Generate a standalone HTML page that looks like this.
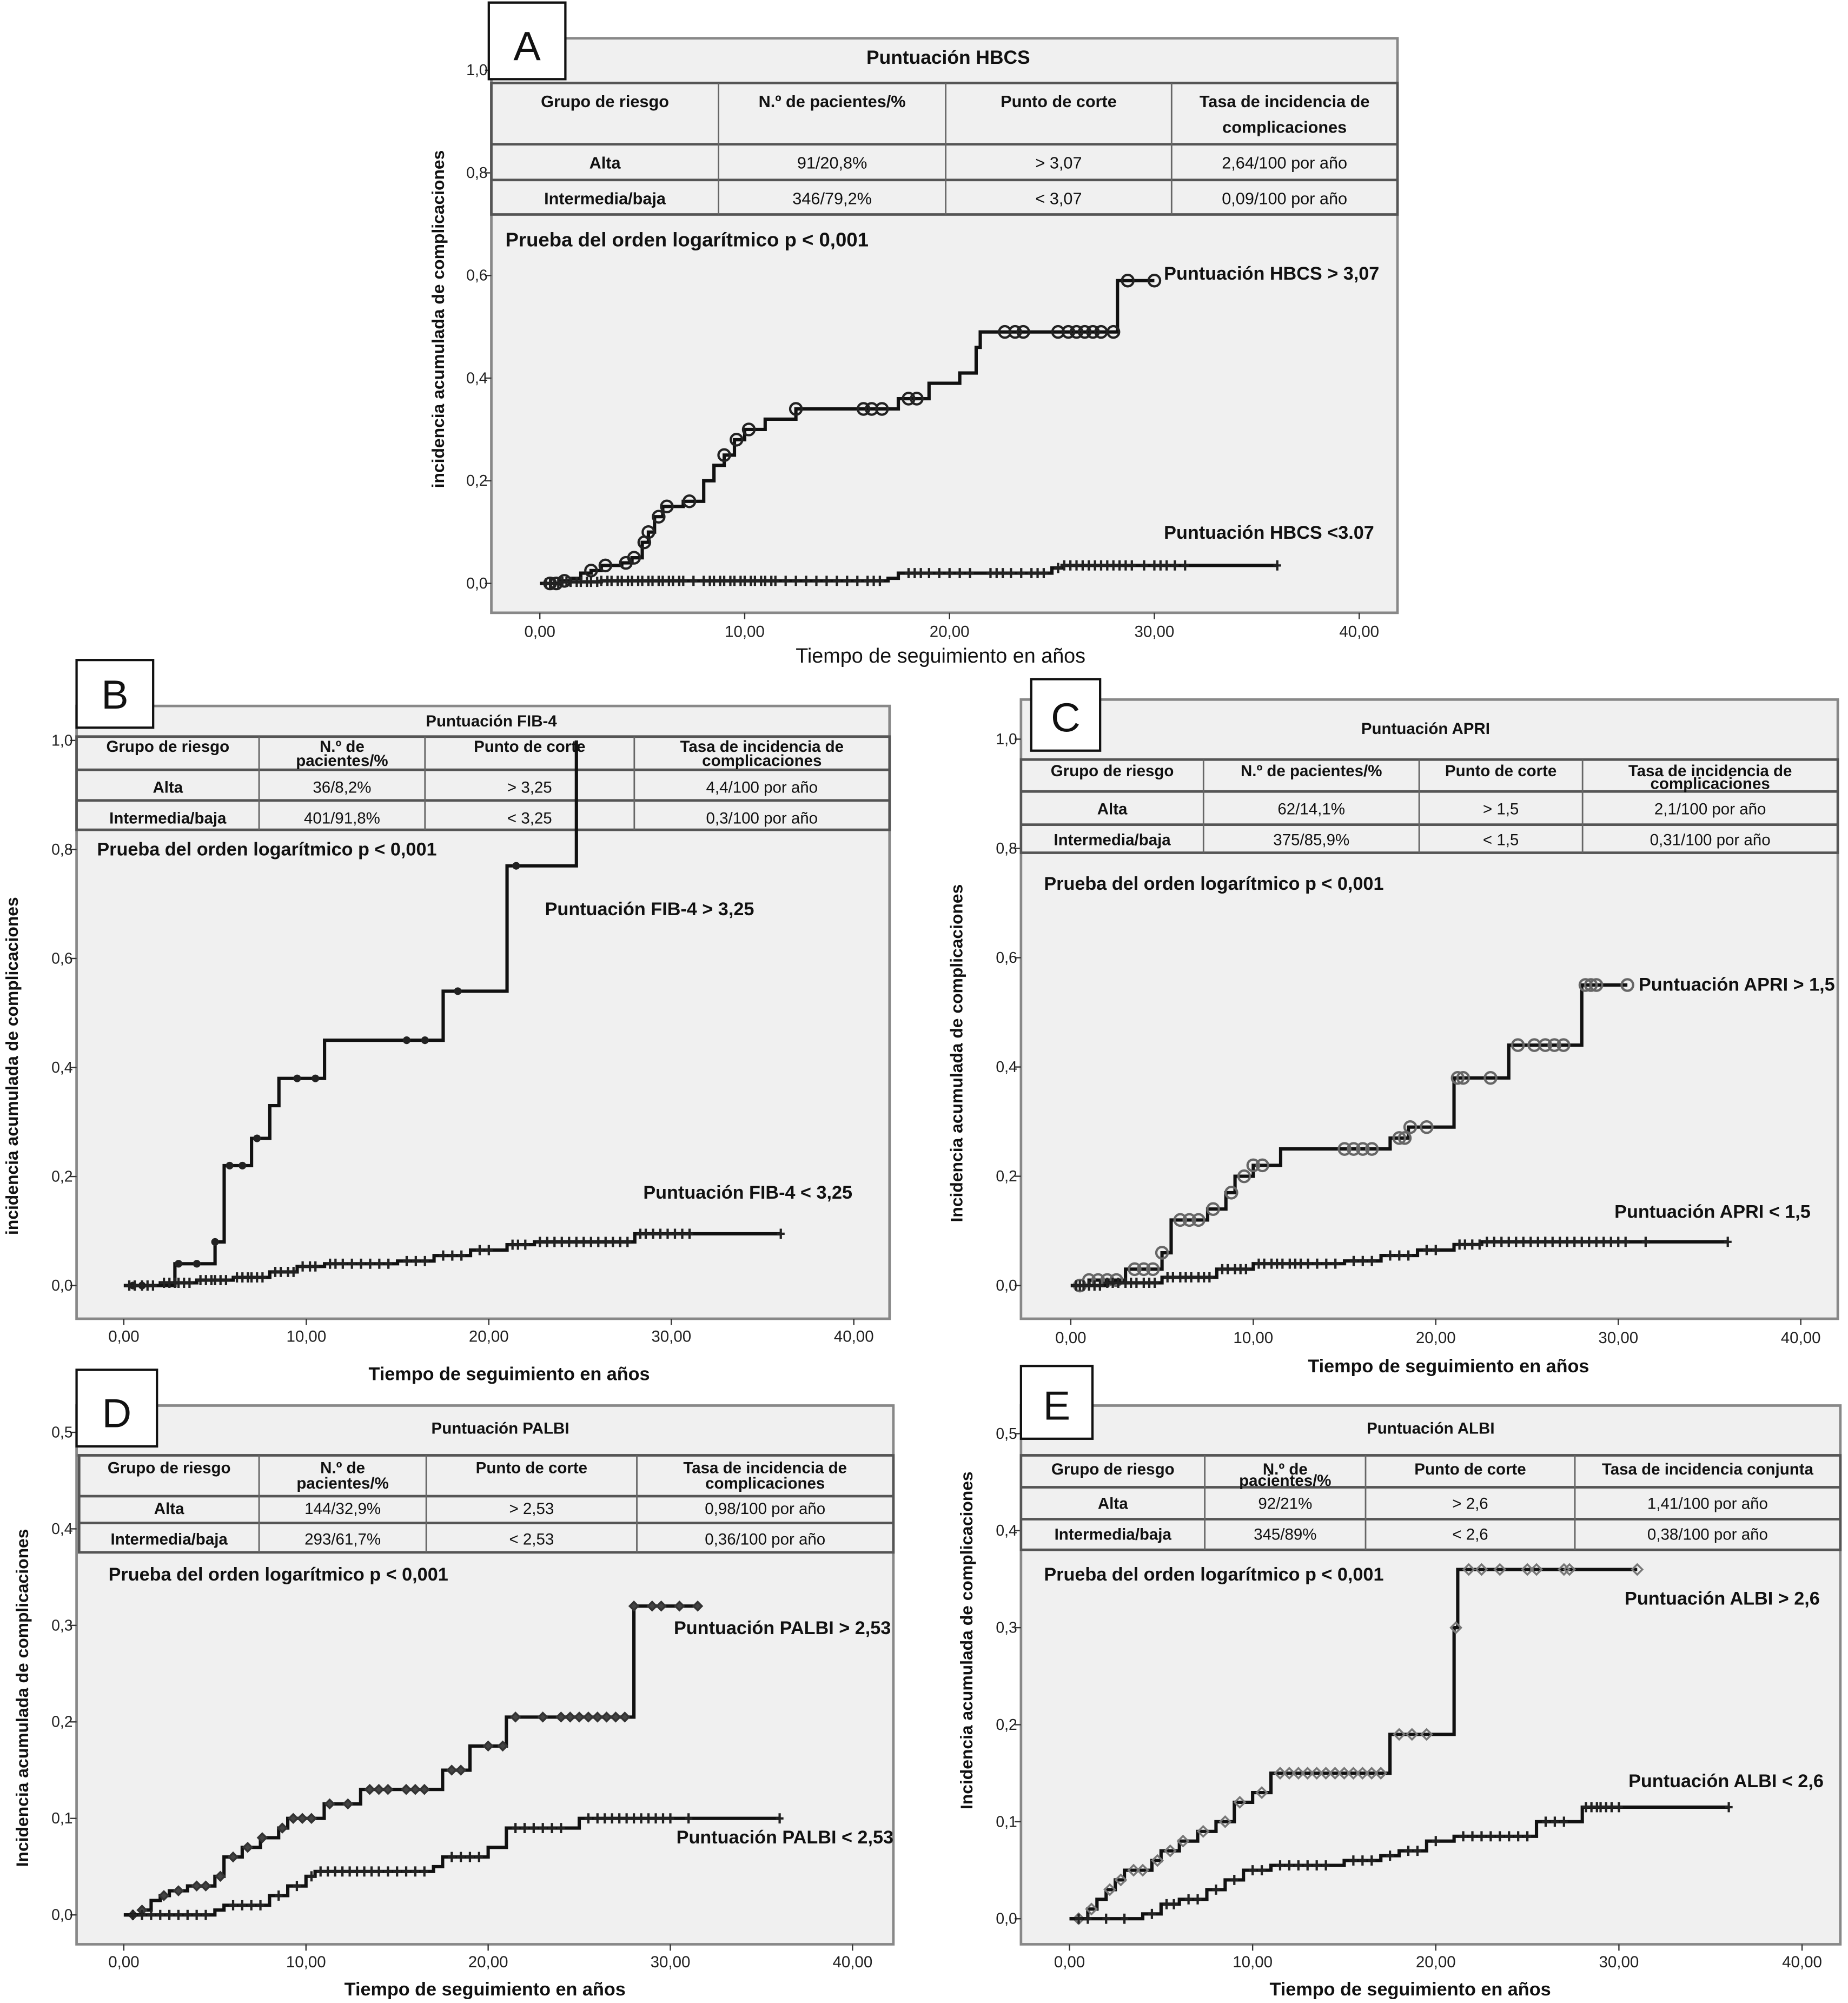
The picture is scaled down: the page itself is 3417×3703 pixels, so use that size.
<!DOCTYPE html>
<html><head><meta charset="utf-8">
<style>
html,body{margin:0;padding:0;background:#fff;}
svg{display:block;font-family:"Liberation Sans",sans-serif;}
</style></head>
<body>
<svg id="fig" width="3417" height="3703" viewBox="0 0 1448 1569" preserveAspectRatio="none" xmlns="http://www.w3.org/2000/svg"></svg>
<script>
// ---- data (years, cumulative incidence) ----
const aHighT=[0,1,1.5,2,2.5,3,4,4.5,5,5.3,5.6,6,7,8,8.5,9,9.5,10,11,12.5,17.5,19,20.5,21.3,21.5,28.2];
const aHighV=[0,0.005,0.01,0.02,0.025,0.035,0.04,0.05,0.08,0.1,0.13,0.15,0.16,0.2,0.23,0.25,0.28,0.3,0.32,0.34,0.36,0.39,0.41,0.46,0.49,0.59];
const aHighEnd=30;
const aHighC=[0.5,0.8,1.2,2.5,3.2,4.2,4.6,5.1,5.3,5.8,6.2,7.3,9,9.6,10.2,12.5,15.8,16.2,16.7,18,18.4,22.7,23.2,23.6,25.3,25.8,26.2,26.6,27,27.4,28,28.7,30];
const aLowT=[0,1,3,17,17.5,25,25.5];
const aLowV=[0,0.003,0.005,0.01,0.02,0.03,0.035];
const aLowEnd=36;
const aLowC=[0.3,0.5,0.7,0.9,1.1,1.3,1.5,1.8,2,2.3,2.5,2.8,3,3.3,3.5,3.8,4,4.3,4.5,4.8,5,5.3,5.5,5.8,6,6.3,6.5,6.8,7,7.5,8,8.3,8.5,8.8,9,9.3,9.5,9.8,10,10.3,10.5,10.8,11,11.3,11.5,12,12.5,13,13.5,14,14.5,15,15.5,16,16.3,16.6,18,18.3,18.6,19,19.5,20,20.5,21,22,22.3,22.6,23,23.5,24,24.3,24.6,25.3,25.6,25.9,26.2,26.5,26.8,27.1,27.4,27.7,28,28.3,28.6,28.9,29.5,30,30.3,30.6,31,31.5,36];
const bHighT=[0,2.8,5,5.5,7,8,8.5,11,17.5,21,24.8];
const bHighV=[0,0.04,0.08,0.22,0.27,0.33,0.38,0.45,0.54,0.77,1.0];
const bHighEnd=24.8;
const bHighC=[0.5,1,3,4,5,5.8,6.5,7.3,9.5,10.5,15.5,16.5,18.3,21.5];
const bLowT=[0,2,4,6,8,9.5,11,15,17,19,21,22.5,28];
const bLowV=[0,0.005,0.01,0.015,0.025,0.035,0.04,0.045,0.055,0.065,0.075,0.08,0.095];
const bLowEnd=36;
const bLowC=[0.3,0.6,1,1.3,1.6,2.2,2.5,2.8,3,3.3,3.6,4.2,4.5,4.8,5,5.3,5.6,6.2,6.5,6.8,7,7.3,7.6,8.3,8.6,9,9.3,9.8,10.2,10.5,11.3,11.6,12,12.5,13,13.5,14,14.5,15.5,16,16.5,17.5,18,18.5,19.5,20,21.3,21.6,22,22.8,23.2,23.6,24,24.4,24.8,25.2,25.6,26,26.4,26.8,27.2,27.6,28.3,28.6,29,29.4,29.8,30.2,30.6,31,36];
const cHighT=[0,1,3,5,5.5,7.5,8.5,9,10,11.5,17.5,18.5,21,24,28];
const cHighV=[0,0.01,0.03,0.06,0.12,0.14,0.17,0.2,0.22,0.25,0.27,0.29,0.38,0.44,0.55];
const cHighEnd=30.5;
const cHighC=[0.5,1,1.5,2,2.5,3.5,4,4.5,5,6,6.5,7,7.8,8.8,9.5,10,10.5,15,15.5,16,16.5,18,18.3,18.6,19.5,21.2,21.5,23,24.5,25.4,26,26.5,27,28.2,28.5,28.8,30.5];
const cLowT=[0,2,5,8,10,15,17,19,21,22.5];
const cLowV=[0,0.005,0.015,0.03,0.04,0.045,0.055,0.065,0.075,0.08];
const cLowEnd=36;
const cLowC=[0.3,0.5,0.7,1,1.3,1.6,2,2.3,2.6,3,3.3,3.6,4,4.3,4.6,5.3,5.6,6,6.3,6.6,7,7.3,7.6,8.3,8.6,9,9.3,9.6,10.3,10.6,11,11.3,11.6,12,12.3,12.6,13,13.5,14,14.5,15.5,16,16.5,17.5,18,18.5,19.5,20,21.3,21.6,22,22.4,22.8,23.2,23.6,24,24.4,24.8,25.2,25.6,26,26.4,26.8,27.2,27.6,28,28.4,28.8,29.2,29.6,30,30.4,31.5,36];
const dHighT=[0,1,1.5,2,2.5,3.5,5,5.5,6.5,7.5,8.5,9,11,13,17.5,19,21,28];
const dHighV=[0,0.005,0.015,0.02,0.025,0.03,0.04,0.06,0.07,0.08,0.09,0.1,0.115,0.13,0.15,0.175,0.205,0.32];
const dHighEnd=31.5;
const dHighC=[0.5,1,2.2,3,4,4.5,5.3,6,6.8,7.6,8.7,9.3,9.8,10.3,11.3,12.3,13.5,14,14.5,15.5,16,16.5,18,18.5,20,20.8,21.5,23,24,24.5,25,25.5,26,26.5,27,27.5,28,29,29.5,30.5,31.5];
const dLowT=[0,5,5.5,8,9,10,10.5,17,17.5,20,21,25];
const dLowV=[0,0.005,0.01,0.02,0.03,0.04,0.045,0.05,0.06,0.07,0.09,0.1];
const dLowEnd=36;
const dLowC=[0.5,1,1.5,2,2.5,3,3.5,4,4.5,6,6.5,7,7.5,8.5,9.5,10.3,10.8,11.2,11.6,12,12.4,12.8,13.2,13.6,14,14.5,15,15.5,16,16.5,18,18.5,19,19.5,21.5,22,22.5,23,23.5,24,25.5,26,26.4,26.8,27.2,27.6,28,28.4,28.8,29.2,29.6,30,31,36];
const eHighT=[0,1,1.5,2,2.5,3,4.5,5,6,7,8,9,10,11,17.5,21,21.2];
const eHighV=[0,0.01,0.02,0.03,0.04,0.05,0.06,0.07,0.08,0.09,0.1,0.12,0.13,0.15,0.19,0.3,0.36];
const eHighEnd=31;
const eHighC=[0.5,1.2,2.2,2.8,3.5,4,4.8,5.5,6.2,7.3,8.5,9.3,10.5,11.5,12,12.5,13,13.5,14,14.5,15,15.5,16,16.5,17,18,18.7,19.5,21.1,21.8,22.5,23.5,25,25.5,27,27.3,31];
const eLowT=[0,4,5,6,7.5,8.5,9.5,11,15,17,18,19.5,21,25.5,28];
const eLowV=[0,0.005,0.015,0.02,0.03,0.04,0.05,0.055,0.06,0.065,0.07,0.08,0.085,0.1,0.115];
const eLowEnd=36;
const eLowC=[0.5,1,2,3,4.5,5.3,5.7,6.5,7,8,9,10,10.5,11.5,12,12.5,13,13.5,14,15.5,16,16.5,17.5,18.5,19,20,21.5,22,22.5,23,23.5,24,24.5,25,26,26.5,27,28.2,28.5,28.8,29,29.3,29.6,30,36];

const xTickLabels=["0,00","10,00","20,00","30,00","40,00"];
const xTickVals=[0,10,20,30,40];
const yTicks1=[0,0.2,0.4,0.6,0.8,1.0];
const yTicks1L=["0,0","0,2","0,4","0,6","0,8","1,0"];
const yTicks2=[0,0.1,0.2,0.3,0.4,0.5];
const yTicks2L=["0,0","0,1","0,2","0,3","0,4","0,5"];

const NS="http://www.w3.org/2000/svg";
const svg=document.getElementById('fig');
function mk(tag,attrs,parent,text){const e=document.createElementNS(NS,tag);for(const k in attrs)e.setAttribute(k,attrs[k]);if(text!==undefined)e.textContent=text;(parent||svg).appendChild(e);return e;}
function stepAt(T,V,t){let v=V[0];for(let i=0;i<T.length;i++){if(T[i]<=t)v=V[i];}return v;}

function panel(p){
  const g=mk('g',{});
  
  
  const r=mk('rect',{x:p.bx0,y:p.by0,width:p.bx1-p.bx0,height:p.by1-p.by0,fill:'#f0f0f0',stroke:'#888',"stroke-width":2},g);
  
  
  const sx=t=>p.x0+(p.x40-p.x0)*t/40;
  const sy=v=>p.y0-(p.y0-p.yTop)*v/p.yMax;
  p.yt.forEach((v,i)=>{
    mk('line',{x1:p.bx0-5,x2:p.bx0,y1:sy(v),y2:sy(v),stroke:'#333','stroke-width':1},g);
    const t=mk('text',{x:p.bx0-3,y:sy(v)+4,'text-anchor':'end','font-size':12,fill:'#222'},g,p.ytl[i]);
    
    
  });
  xTickVals.forEach((v,i)=>{
    mk('line',{x1:sx(v),x2:sx(v),y1:p.by1,y2:p.by1+5,stroke:'#333','stroke-width':1},g);
    const t=mk('text',{x:sx(v),y:p.xly,'text-anchor':'middle','font-size':12.5,fill:'#222'},g,xTickLabels[i]);
    
    
  });
  const xt=mk('text',{x:p.xtx,y:p.xty,'text-anchor':'middle','font-size':p.xtfs,'font-weight':p.xtb?'bold':'normal',fill:'#111'},g,'Tiempo de seguimiento en años');
  
  
  const yt=mk('text',{x:0,y:0,transform:`translate(${p.ytx},${p.yty}) rotate(-90)`,'text-anchor':'middle','font-size':13.5,'font-weight':'bold',fill:'#111'},g,p.ytitle);
  
  
  mk('line',{x1:p.bx0,x2:p.bx1,y1:p.tb[0],y2:p.tb[0],stroke:'#777','stroke-width':2},g);
  const tt=mk('text',{x:p.ttx,y:p.tty,'text-anchor':'middle','font-size':p.ttfs,'font-weight':'bold',fill:'#111'},g,p.title);
  
  
  const tg=mk('g',{},g);
  
  
  const c=p.cols;
  mk('rect',{x:c[0],y:p.tb[0],width:c[c.length-1]-c[0],height:p.tb[3]-p.tb[0],fill:'#f0f0f0',stroke:'#555','stroke-width':2},tg);
  [p.tb[1],p.tb[2]].forEach(y=>mk('line',{x1:c[0],x2:c[4],y1:y,y2:y,stroke:'#555','stroke-width':2},tg));
  for(let i=1;i<4;i++)mk('line',{x1:c[i],x2:c[i],y1:p.tb[0],y2:p.tb[3],stroke:'#666','stroke-width':1.2},tg);
  const fs=p.tfs;
  p.head.forEach((h,i)=>{const cx=(c[i]+c[i+1])/2;h.forEach((ln,j)=>mk('text',{x:cx,y:p.hy[j],'text-anchor':'middle','font-size':fs,'font-weight':'bold',fill:'#111'},tg,ln));});
  p.rows.forEach((row,ri)=>{row.forEach((cell,i)=>{const cx=(c[i]+c[i+1])/2;mk('text',{x:cx,y:p.ry[ri],'text-anchor':'middle','font-size':fs,'font-weight':i==0?'bold':'normal',fill:'#111'},tg,cell);});});
  const pr=mk('text',{x:p.prx,y:p.pry,'font-size':p.prfs,'font-weight':'bold',fill:'#111'},g,'Prueba del orden logarítmico p < 0,001');
  
  
  p.series.forEach(s=>{
    let d=`M${sx(s.T[0])},${sy(s.V[0])}`;
    for(let i=1;i<s.T.length;i++){d+=` H${sx(s.T[i])} V${sy(s.V[i])}`;}
    d+=` H${sx(s.end)}`;
    const sg=mk('g',{},g);
    
    
    mk('path',{d:d,fill:'none',stroke:'#111','stroke-width':2.6},sg);
    s.C.forEach(t=>{
      const x=sx(t),y=sy(stepAt(s.T,s.V,t));
      let m;
      if(s.mark=='plus'){m=mk('path',{d:`M${x-3},${y}H${x+3}M${x},${y-4}V${y+4}`,stroke:'#222','stroke-width':1.8},sg);}
      else if(s.mark=='circle'){m=mk('circle',{cx:x,cy:y,r:4.5,fill:'none',stroke:s.col,'stroke-width':1.8},sg);}
      else if(s.mark=='dot'){m=mk('circle',{cx:x,cy:y,r:3,fill:'#222'},sg);}
      else {const q=s.r;m=mk('path',{d:`M${x},${y-q}L${x+q},${y}L${x},${y+q}L${x-q},${y}Z`,fill:s.fill,stroke:s.col,'stroke-width':1.5},sg);}
      
      
    });
    const lb=mk('text',{x:s.lx,y:s.ly,'font-size':14.5,'font-weight':'bold',fill:'#111'},g,s.label);
    
    
  });
  const lg=mk('g',{},g);
  
  
  mk('rect',{x:p.L[0],y:p.L[1],width:p.L[2]-p.L[0],height:p.L[3]-p.L[1],fill:'#fff',stroke:'#111','stroke-width':1.8},lg);
  mk('text',{x:(p.L[0]+p.L[2])/2,y:p.L[3]-15,'text-anchor':'middle','font-size':32,fill:'#111'},lg,p.id);
}

const rowsA=[["Alta","91/20,8%","> 3,07","2,64/100 por año"],["Intermedia/baja","346/79,2%","< 3,07","0,09/100 por año"]];
panel({id:'A',bx0:385,bx1:1095,by0:30,by1:480,x0:423,x40:1065,y0:457,yTop:55,yMax:1,yt:yTicks1,ytl:yTicks1L,
 xly:499,xtx:737,xty:519,xtfs:16,xtb:false,ytx:348,yty:250,ytitle:'incidencia acumulada de complicaciones',
 tb:[65,113,141,168],cols:[385,563,741,918,1095],tfs:13,ttx:743,tty:50,ttfs:15,title:'Puntuación HBCS',
 head:[["Grupo de riesgo"],["N.º de pacientes/%"],["Punto de corte"],["Tasa de incidencia de","complicaciones"]],hy:[84,104],
 rows:rowsA,ry:[132,160],prx:396,pry:193,prfs:15.5,L:[383,2,443,62],
 series:[{name:'hbcs-high',T:aHighT,V:aHighV,end:aHighEnd,C:aHighC,mark:'circle',col:'#222',lx:912,ly:219,label:'Puntuación HBCS > 3,07'},
         {name:'hbcs-low',T:aLowT,V:aLowV,end:aLowEnd,C:aLowC,mark:'plus',lx:912,ly:422,label:'Puntuación HBCS <3.07'}]});
panel({id:'B',bx0:60,bx1:697,by0:553,by1:1033,x0:97,x40:669,y0:1007,yTop:580,yMax:1,yt:yTicks1,ytl:yTicks1L,
 xly:1051,xtx:399,xty:1081,xtfs:14.5,xtb:true,ytx:14,yty:835,ytitle:'incidencia acumulada de complicaciones',
 tb:[577,603,627,650],cols:[60,203,333,497,697],tfs:12.5,ttx:385,tty:569,ttfs:12.5,title:'Puntuación FIB-4',
 head:[["Grupo de riesgo"],["N.º de","pacientes/%"],["Punto de corte"],["Tasa de incidencia de","complicaciones"]],hy:[589,600],
 rows:[["Alta","36/8,2%","> 3,25","4,4/100 por año"],["Intermedia/baja","401/91,8%","< 3,25","0,3/100 por año"]],ry:[621,645],prx:76,pry:670,prfs:14.5,L:[60,517,120,570],
 series:[{name:'fib4-high',T:bHighT,V:bHighV,end:bHighEnd,C:bHighC,mark:'dot',lx:427,ly:717,label:'Puntuación FIB-4 > 3,25'},
         {name:'fib4-low',T:bLowT,V:bLowV,end:bLowEnd,C:bLowC,mark:'plus',lx:504,ly:939,label:'Puntuación FIB-4 < 3,25'}]});
panel({id:'C',bx0:800,bx1:1440,by0:548,by1:1033,x0:839,x40:1411,y0:1007,yTop:579,yMax:1,yt:yTicks1,ytl:yTicks1L,
 xly:1052,xtx:1135,xty:1075,xtfs:14.5,xtb:true,ytx:754,yty:825,ytitle:'Incidencia acumulada de complicaciones',
 tb:[595,620,646,668],cols:[800,943,1112,1240,1440],tfs:12.5,ttx:1117,tty:575,ttfs:12.5,title:'Puntuación APRI',
 head:[["Grupo de riesgo"],["N.º de pacientes/%"],["Punto de corte"],["Tasa de incidencia de","complicaciones"]],hy:[608,618],
 rows:[["Alta","62/14,1%","> 1,5","2,1/100 por año"],["Intermedia/baja","375/85,9%","< 1,5","0,31/100 por año"]],ry:[638,662],prx:818,pry:697,prfs:14.5,L:[808,532,862,588],
 series:[{name:'apri-high',T:cHighT,V:cHighV,end:cHighEnd,C:cHighC,mark:'circle',col:'#666',lx:1284,ly:776,label:'Puntuación APRI > 1,5'},
         {name:'apri-low',T:cLowT,V:cLowV,end:cLowEnd,C:cLowC,mark:'plus',lx:1265,ly:954,label:'Puntuación APRI < 1,5'}]});
panel({id:'D',bx0:60,bx1:700,by0:1101,by1:1523,x0:97,x40:668,y0:1500,yTop:1122,yMax:0.5,yt:yTicks2,ytl:yTicks2L,
 xly:1541,xtx:380,xty:1563,xtfs:14.5,xtb:true,ytx:22,yty:1330,ytitle:'Incidencia acumulada de complicaciones',
 tb:[1140,1172,1193,1216],cols:[62,203,334,499,700],tfs:12.5,ttx:392,tty:1123,ttfs:12.5,title:'Puntuación PALBI',
 head:[["Grupo de riesgo"],["N.º de","pacientes/%"],["Punto de corte"],["Tasa de incidencia de","complicaciones"]],hy:[1154,1166],
 rows:[["Alta","144/32,9%","> 2,53","0,98/100 por año"],["Intermedia/baja","293/61,7%","< 2,53","0,36/100 por año"]],ry:[1186,1210],prx:85,pry:1238,prfs:14.5,L:[60,1073,123,1133],
 series:[{name:'palbi-high',T:dHighT,V:dHighV,end:dHighEnd,C:dHighC,mark:'diamond',r:3.3,col:'#333',fill:'#444',lx:528,ly:1280,label:'Puntuación PALBI > 2,53'},
         {name:'palbi-low',T:dLowT,V:dLowV,end:dLowEnd,C:dLowC,mark:'plus',lx:530,ly:1444,label:'Puntuación PALBI < 2,53'}]});
panel({id:'E',bx0:800,bx1:1442,by0:1101,by1:1523,x0:838,x40:1412,y0:1503,yTop:1123,yMax:0.5,yt:yTicks2,ytl:yTicks2L,
 xly:1541,xtx:1105,xty:1563,xtfs:14.5,xtb:true,ytx:762,yty:1285,ytitle:'Incidencia acumulada de complicaciones',
 tb:[1140,1165,1190,1214],cols:[800,944,1070,1234,1442],tfs:12.5,ttx:1121,tty:1123,ttfs:12.5,title:'Puntuación ALBI',
 head:[["Grupo de riesgo"],["N.º de","pacientes/%"],["Punto de corte"],["Tasa de incidencia conjunta"]],hy:[1155,1164],
 rows:[["Alta","92/21%","> 2,6","1,41/100 por año"],["Intermedia/baja","345/89%","< 2,6","0,38/100 por año"]],ry:[1182,1206],prx:818,pry:1238,prfs:14.5,L:[800,1070,856,1127],
 series:[{name:'albi-high',T:eHighT,V:eHighV,end:eHighEnd,C:eHighC,mark:'diamond',r:4,col:'#777',fill:'none',lx:1273,ly:1257,label:'Puntuación ALBI > 2,6'},
         {name:'albi-low',T:eLowT,V:eLowV,end:eLowEnd,C:eLowC,mark:'plus',lx:1276,ly:1400,label:'Puntuación ALBI < 2,6'}]});
</script>
</body></html>
